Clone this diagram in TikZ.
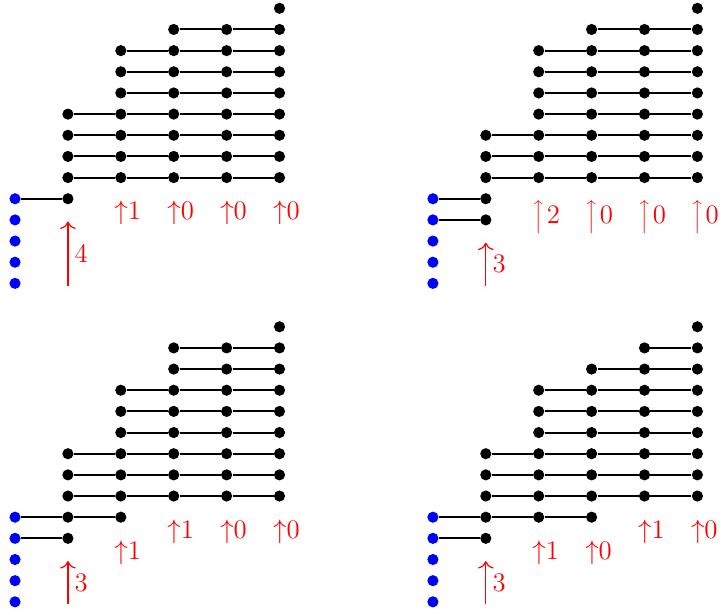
\documentclass[tikz,border=0pt]{standalone}
\usetikzlibrary{arrows.meta}
\tikzset{
  dotb/.style={circle,fill=black,inner sep=0pt,minimum size=6pt},
  dotu/.style={circle,fill=blue,inner sep=0pt,minimum size=6pt},
  seg/.style={line width=1.1pt},
  lab/.style={text=red,font=\Large,inner sep=0pt,anchor=base west},
  bigarr/.style={red,line width=0.65pt,-{Computer Modern Rightarrow[length=4pt,width=8.4pt,line width=0.65pt]}},
  numlab/.style={text=red,font=\Large,right},
}
\newcommand\tallup{\left\uparrow\vrule height 11.6pt depth 4.4pt width 0pt\right.}
% #1 panel, #2 row, #3 first col, #4 last col
\newcommand\drow[4]{%
  \foreach \cc in {#3,...,#4}{\ifnum\cc>0 \node[dotb] (#1-#2-\cc) at (\cc,-0.4*#2) {};\fi}
  \ifnum#3<#4
    \pgfmathtruncatemacro\lastc{#4-1}
    \foreach \cc [evaluate=\cc as \nn using int(\cc+1)] in {#3,...,\lastc}{\draw[seg] (#1-#2-\cc) -- (#1-#2-\nn);}
  \fi
}
\newcommand\blues[1]{\foreach \rr in {9,...,13}{\node[dotu] (#1-\rr-0) at (0,-0.4*\rr) {};}}
\begin{document}
\begin{tikzpicture}
\useasboundingbox (-0.284,0.157) rectangle (13.365,-11.469);
% ---------- panel a
\begin{scope}
\blues{a}
\drow{a}{0}{5}{5}
\drow{a}{1}{3}{5}
\foreach \r in {2,3,4}{\drow{a}{\r}{2}{5}}
\foreach \r in {5,6,7,8}{\drow{a}{\r}{1}{5}}
\drow{a}{9}{0}{1}
\node[lab] (a-l2) at (2-0.127,-4.0) {$\uparrow$1};
\node[lab] (a-l3) at (3-0.127,-4.0) {$\uparrow$0};
\node[lab] (a-l4) at (4-0.127,-4.0) {$\uparrow$0};
\node[lab] (a-l5) at (5-0.127,-4.0) {$\uparrow$0};
\coordinate (a-t) at (1,-4.03);
\coordinate (a-b) at (1,-5.25);
\draw[bigarr] (a-b) -- (a-t) node[numlab,midway] (a-n) {4};
\end{scope}
% ---------- panel b
\begin{scope}[shift={(7.9,0)}]
\blues{b}
\drow{b}{0}{5}{5}
\drow{b}{1}{3}{5}
\foreach \r in {2,3,4,5}{\drow{b}{\r}{2}{5}}
\foreach \r in {6,7,8}{\drow{b}{\r}{1}{5}}
\drow{b}{9}{0}{1}
\drow{b}{10}{0}{1}
\node[lab] (b-l2) at (2-0.127,-4.07) {$\tallup$2};
\node[lab] (b-l3) at (3-0.127,-4.07) {$\tallup$0};
\node[lab] (b-l4) at (4-0.127,-4.07) {$\tallup$0};
\node[lab] (b-l5) at (5-0.127,-4.07) {$\tallup$0};
\coordinate (b-t) at (1,-4.43);
\coordinate (b-b) at (1,-5.25);
\draw[bigarr] (b-b) -- (b-t) node[numlab,midway] (b-n) {3};
\end{scope}
% ---------- panel c
\begin{scope}[shift={(0,-6.02)}]
\blues{c}
\drow{c}{0}{5}{5}
\drow{c}{1}{3}{5}
\drow{c}{2}{3}{5}
\foreach \r in {3,4,5}{\drow{c}{\r}{2}{5}}
\foreach \r in {6,7,8}{\drow{c}{\r}{1}{5}}
\drow{c}{9}{0}{2}
\drow{c}{10}{0}{1}
\node[lab] (c-l2) at (2-0.127,-4.4) {$\uparrow$1};
\node[lab] (c-l3) at (3-0.127,-4.0) {$\uparrow$1};
\node[lab] (c-l4) at (4-0.127,-4.0) {$\uparrow$0};
\node[lab] (c-l5) at (5-0.127,-4.0) {$\uparrow$0};
\coordinate (c-t) at (1,-4.43);
\coordinate (c-b) at (1,-5.25);
\draw[bigarr] (c-b) -- (c-t) node[numlab,midway] (c-n) {3};
\end{scope}
% ---------- panel d
\begin{scope}[shift={(7.9,-6.02)}]
\blues{d}
\drow{d}{0}{5}{5}
\drow{d}{1}{4}{5}
\drow{d}{2}{3}{5}
\foreach \r in {3,4,5}{\drow{d}{\r}{2}{5}}
\foreach \r in {6,7,8}{\drow{d}{\r}{1}{5}}
\drow{d}{9}{0}{3}
\drow{d}{10}{0}{1}
\node[lab] (d-l2) at (2-0.127,-4.4) {$\uparrow$1};
\node[lab] (d-l3) at (3-0.127,-4.4) {$\uparrow$0};
\node[lab] (d-l4) at (4-0.127,-4.0) {$\uparrow$1};
\node[lab] (d-l5) at (5-0.127,-4.0) {$\uparrow$0};
\coordinate (d-t) at (1,-4.43);
\coordinate (d-b) at (1,-5.25);
\draw[bigarr] (d-b) -- (d-t) node[numlab,midway] (d-n) {3};
\end{scope}
\end{tikzpicture}
\end{document}
